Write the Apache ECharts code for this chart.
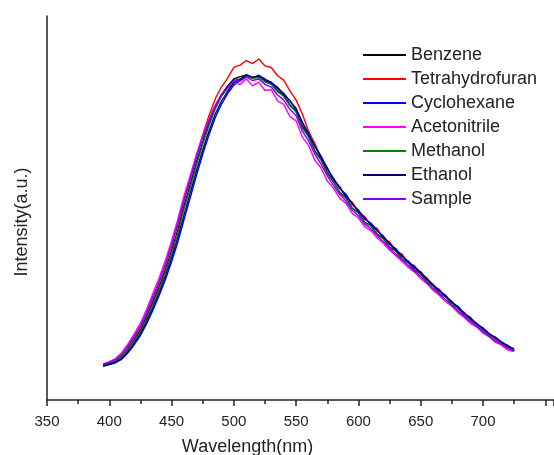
<!DOCTYPE html>
<html>
<head>
<meta charset="utf-8">
<script src="https://cdn.jsdelivr.net/npm/echarts@6/dist/echarts.min.js"></script>
<style>
html,body{margin:0;padding:0;background:#fff;}
#chart{width:554px;height:455px;}
</style>
</head>
<body>
<div id="chart"></div>
<script>
// Wavelengths (nm), 5 nm steps
var wavelength = [];
for (var w = 395; w <= 725; w += 5) wavelength.push(w);

var seriesNames = ['Benzene','Tetrahydrofuran','Cyclohexane','Acetonitrile','Methanol','Ethanol','Sample'];
var seriesColors = ['#000000','#ff0000','#0000ff','#ff00ff','#008000','#000080','#8000ff'];

var benzene = [90,95,101,113,133,157,183,217,256,295,339,389,443,506,561,619,671,720,762,795,818,836,842,846,840,843,832,824,806,793,769,751,714,686,649,626,592,569,541,527,500,488,463,454,432,421,398,389,367,358,338,330,307,298,276,270,247,241,218,212,192,186,166,163,145,141,128];
var tetrahydrofuran = [92,98,104,118,139,163,190,225,265,305,350,401,456,520,576,636,690,740,784,815,838,866,872,884,876,888,870,866,845,833,805,781,745,700,668,632,606,571,556,529,515,490,478,455,447,421,412,388,380,357,350,329,318,297,288,268,257,236,228,206,200,180,172,157,150,136,131];
var cyclohexane = [88,92,97,106,123,144,168,199,234,272,313,360,411,470,527,585,640,690,735,770,798,820,832,845,838,846,834,828,812,799,778,760,722,695,660,636,601,578,551,536,509,495,471,461,440,427,405,394,373,362,344,334,313,301,282,273,253,244,224,215,197,188,171,164,150,142,131];
var acetonitrile = [94,100,108,123,146,172,200,236,277,318,363,414,470,532,585,640,688,731,768,795,812,826,822,836,818,828,806,808,779,770,738,727,684,663,624,604,570,552,525,512,486,474,451,441,422,408,390,376,361,345,333,316,303,285,272,256,244,227,215,199,190,174,164,150,143,130,126];
var methanol = [90,95,100,112,131,154,179,212,250,289,332,381,435,498,553,612,666,714,757,790,812,832,836,843,838,840,828,822,803,791,766,750,708,686,646,625,589,568,540,526,499,487,462,453,431,420,397,388,366,357,337,329,306,297,275,269,246,240,217,211,191,185,166,161,146,140,129];
var ethanol = [89,93,98,108,126,148,173,205,241,280,322,370,422,482,539,597,651,700,744,778,804,826,835,847,840,844,836,825,815,795,780,755,724,690,662,630,603,574,553,530,512,491,474,457,442,423,408,390,376,359,346,330,316,298,285,270,256,241,226,212,199,186,173,162,151,140,133];
var sample = [93,98,105,119,141,166,193,228,268,308,353,404,459,521,575,632,682,727,765,795,814,832,830,841,832,836,822,815,795,781,757,740,700,675,640,614,584,559,535,518,494,480,458,446,428,413,395,380,365,350,336,322,306,290,276,261,247,232,218,204,192,178,166,154,145,134,128];

var allValues = [benzene, tetrahydrofuran, cyclohexane, acetonitrile, methanol, ethanol, sample];

var chart = echarts.init(document.getElementById('chart'), null, {renderer:'canvas'});
var series = seriesNames.map(function(name, i){
  return {
    name: name,
    type: 'line',
    symbol: 'none',
    smooth: false,
    color: seriesColors[i],
    lineStyle: {width: 1.4, color: seriesColors[i]},
    data: wavelength.map(function(x, j){ return [x, allValues[i][j]]; })
  };
});

chart.setOption({
  animation: false,
  backgroundColor: '#ffffff',
  textStyle: {fontFamily: 'Liberation Sans, Arial, sans-serif'},
  grid: {left: 47, top: 16, right: 0, bottom: 55, outerBoundsMode: 'none', containLabel: false},
  legend: {
    orient: 'vertical',
    left: 363,
    top: 45,
    padding: 0,
    icon: 'rect',
    itemWidth: 43,
    itemHeight: 2,
    itemGap: 4,
    textStyle: {fontSize: 18, color: '#222', lineHeight: 20},
    data: seriesNames
  },
  xAxis: {
    type: 'value',
    min: 350,
    max: 757,
    interval: 50,
    name: 'Wavelength(nm)',
    nameLocation: 'middle',
    nameGap: 38,
    nameTextStyle: {fontSize: 18, color: '#222', padding: [0,106,0,0]},
    axisLine: {show: true, onZero: false, lineStyle: {color: '#222', width: 1.5}},
    axisTick: {show: true, length: 6, lineStyle: {color: '#222', width: 1.5}},
    minorTick: {show: true, splitNumber: 2, length: 4, lineStyle: {color: '#222', width: 1.5}},
    axisLabel: {fontSize: 15, color: '#222', margin: 14, showMaxLabel: false,
      formatter: function(v){ return v > 700 ? '' : String(v); }},
    splitLine: {show: false}
  },
  yAxis: {
    type: 'value',
    min: 0,
    max: 1000,
    name: 'Intensity(a.u.)',
    nameLocation: 'middle',
    nameGap: 16,
    nameTextStyle: {fontSize: 18, color: '#222', padding: [0,28,0,0]},
    axisLine: {show: true, lineStyle: {color: '#222', width: 1.5}},
    axisTick: {show: false},
    axisLabel: {show: false},
    splitLine: {show: false}
  },
  series: series
});
</script>
</body>
</html>
